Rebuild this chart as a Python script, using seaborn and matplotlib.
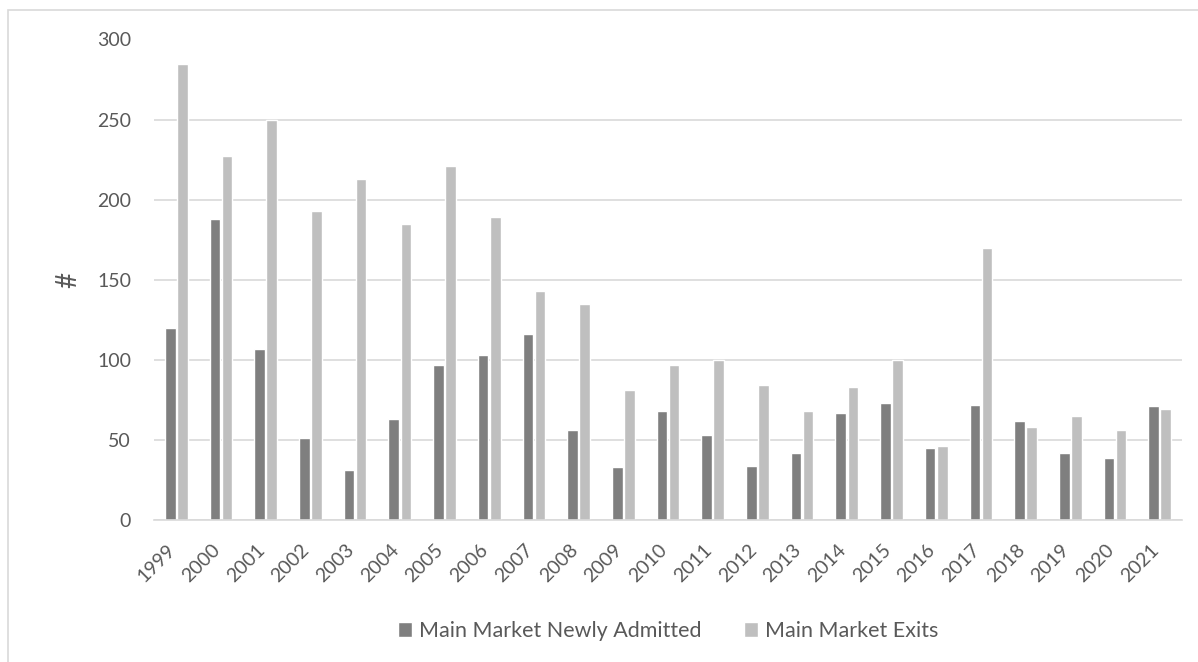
import pandas as pd
import matplotlib.pyplot as plt
import seaborn as sns
from matplotlib.patches import Rectangle
from matplotlib.transforms import ScaledTranslation

years = [str(y) for y in range(1999, 2022)]
newly_admitted = [120, 188, 107, 51, 31, 63, 97, 103, 116, 56, 33, 68,
                  53, 34, 42, 67, 73, 45, 72, 62, 42, 39, 71]
exits = [285, 227, 250, 193, 213, 185, 221, 189, 143, 135, 81, 97,
         100, 84, 68, 83, 100, 46, 170, 58, 65, 56, 69]
series_names = ['Main Market Newly Admitted', 'Main Market Exits']

sns.set_theme(style="white")
plt.rcParams['font.family'] = ['Lato', 'DejaVu Sans']

df = pd.DataFrame({
    'year': years * 2,
    'count': newly_admitted + exits,
    'series': [series_names[0]] * len(years) + [series_names[1]] * len(years),
})

fig = plt.figure(figsize=(11.98, 6.62), dpi=100)
ax = fig.add_axes([154 / 1198, 1 - 520 / 662, 1028 / 1198, 480.5 / 662])

sns.barplot(data=df, x='year', y='count', hue='series', order=years,
            hue_order=series_names, palette=['#7f7f7f', '#bfbfbf'],
            width=0.54, gap=0.12, saturation=1, ax=ax)

ax.set_ylim(0, 300)
ax.set_xlim(-0.5, len(years) - 0.5)
ax.set_yticks(range(0, 301, 50))
ax.yaxis.grid(True, color='#d9d9d9', linewidth=1.2)
ax.set_axisbelow(True)
for side in ['top', 'right', 'left']:
    ax.spines[side].set_visible(False)
ax.spines['bottom'].set_color('#d9d9d9')
ax.spines['bottom'].set_linewidth(1.2)
ax.tick_params(axis='both', length=0, colors='#595959', labelsize=14)
ax.tick_params(axis='y', pad=16.5)
ax.tick_params(axis='x', pad=15)
# nudge the rotated year labels left so they end under their bars
shift = ScaledTranslation(-7 / 72, 0, fig.dpi_scale_trans)
for lab in ax.get_xticklabels():
    lab.set_rotation(45)
    lab.set_ha('right')
    lab.set_rotation_mode('anchor')
    lab.set_transform(lab.get_transform() + shift)

ax.set_xlabel('')
ax.set_ylabel('#', fontsize=20, color='#595959', labelpad=11)

ax.legend(loc='center', bbox_to_anchor=(0.5, -0.231), ncol=2, frameon=False,
          fontsize=15.5, labelcolor='#595959', handlelength=0.65, handleheight=0.65,
          columnspacing=2.0, handletextpad=0.3)

fig.patches.append(Rectangle((8 / 1198, -0.1), 1.2, 1 - 10 / 662 + 0.1,
                             transform=fig.transFigure, fill=False,
                             edgecolor='#d9d9d9', linewidth=1.2))

fig.savefig('out.png', dpi=100)
